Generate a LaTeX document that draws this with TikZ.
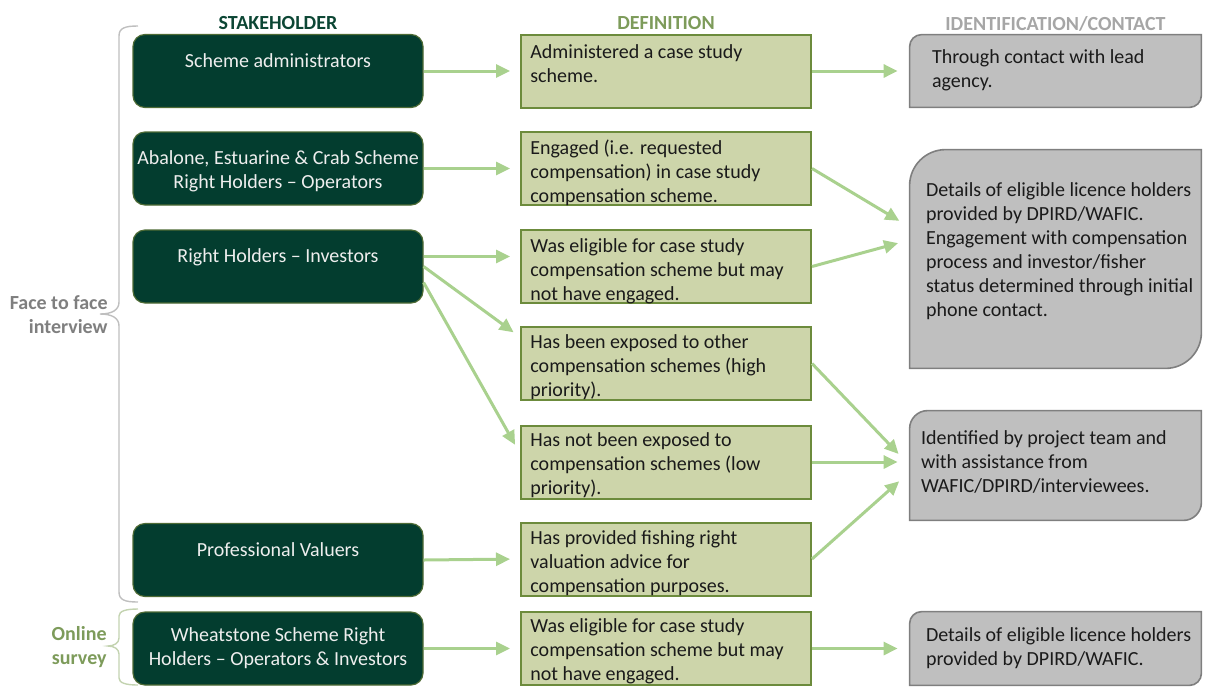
\documentclass[tikz,border=0pt]{standalone}
\usepackage{fontspec}
\setmainfont{Carlito}
\usetikzlibrary{positioning}
\usetikzlibrary{arrows.meta}

\definecolor{stakegreen}{HTML}{033D2F}
\definecolor{stakeline}{HTML}{4E6B35}
\definecolor{stakewhite}{HTML}{EEEEEE}
\definecolor{deffill}{HTML}{CDD5AA}
\definecolor{defline}{HTML}{6C8B3C}
\definecolor{idfill}{HTML}{BFBFBF}
\definecolor{idline}{HTML}{7F7F7F}
\definecolor{arrowgreen}{HTML}{A9D18E}
\definecolor{headgreen}{HTML}{0C4634}
\definecolor{headolive}{HTML}{7D9B5A}
\definecolor{headgrey}{HTML}{A6A6A6}
\definecolor{facegrey}{HTML}{7F7F7F}
\definecolor{bracegrey}{HTML}{BFBFBF}
\definecolor{braceolive}{HTML}{C3D3B0}
\definecolor{textblack}{HTML}{1A1A1A}

\begin{document}
\begin{tikzpicture}[x=0.5pt, y=0.5pt,
    font=\fontsize{10}{12}\selectfont,
    stake/.style={draw=stakeline, line width=0.6pt, fill=stakegreen, rounded corners=6pt,
        minimum width=145pt, minimum height=36.5pt, inner sep=0pt},
    defbox/.style={draw=defline, line width=1pt, fill=deffill,
        minimum width=145pt, minimum height=36.5pt, inner sep=0pt},
    idbox/.style={minimum width=145.5pt, inner sep=0pt},
    idshape/.style={draw=idline, line width=0.8pt, fill=idfill},
    stxt/.style={text=stakewhite, align=center, inner sep=0pt},
    dtxt/.style={text=textblack, align=left, inner sep=0pt},
    head/.style={font=\fontsize{10}{12}\selectfont\bfseries, inner sep=0pt, anchor=base},
    side/.style={font=\fontsize{10}{12}\selectfont\bfseries, align=right, inner sep=0pt, anchor=east},
    link/.style={draw=arrowgreen, line width=1.5pt, -{Triangle[length=7pt, width=6.5pt]}},
    brc/.style={line width=0.7pt}]

    \useasboundingbox (0,0) rectangle (1208,-686);

    % stakeholders
    \node (s1) [stake] at (278,-71) {};
    \node (s2) [stake] at (278,-168.5) {};
    \node (s3) [stake] at (278,-266.5) {};
    \node (s4) [stake] at (278,-560) {};
    \node (s5) [stake] at (278,-648.5) {};

    % definitions
    \node (d1) [defbox] at (666,-71) {};
    \node (d2) [defbox] at (666,-168.5) {};
    \node (d3) [defbox] at (666,-266.5) {};
    \node (d4) [defbox] at (666,-363.5) {};
    \node (d5) [defbox] at (666,-462) {};
    \node (d6) [defbox] at (666,-559) {};
    \node (d7) [defbox] at (666,-648.5) {};

    % identification / contact
    \node (g1) [idbox, minimum height=36pt] at (1055.5,-71) {};
    \node (g2) [idbox, minimum height=109pt] at (1055.5,-259) {};
    \node (g3) [idbox, minimum height=54.5pt] at (1055.5,-465.5) {};
    \node (g4) [idbox, minimum height=36.5pt] at (1055.5,-648.5) {};
    \foreach \g/\r in {g1/6pt, g2/18pt, g3/9pt, g4/6pt}
        \draw[idshape] (\g.south west) -- ([yshift=-\r]\g.north west)
            arc[start angle=180, end angle=90, radius=\r] -- (\g.north east)
            -- ([yshift=\r]\g.south east) arc[start angle=0, end angle=-90, radius=\r] -- cycle;

    % headings
    \node (hs) [head, text=headgreen] at ([yshift=2.2pt]s1.north) {STAKEHOLDER};
    \node (hd) [head, text=headolive] at ([yshift=2.2pt]d1.north) {DEFINITION};
    \node (hi) [head, text=headgrey] at ([yshift=2.2pt]g1.north) {IDENTIFICATION/CONTACT};

    % box texts
    \node (s1t) [stxt, below=9.5pt of s1.north] {Scheme administrators};
    \node (s2t) [stxt, below=9.5pt of s2.north] {Abalone, Estuarine \& Crab Scheme\\Right Holders -- Operators};
    \node (s3t) [stxt, below=9.5pt of s3.north] {Right Holders -- Investors};
    \node (s4t) [stxt, below=9.5pt of s4.north] {Professional Valuers};
    \node (s5t) [stxt, below=8pt of s5.north] {Wheatstone Scheme Right\\Holders -- Operators \& Investors};

    \node (d1t) [dtxt, below right=5.5pt and 5pt of d1.north west] {Administered a case study\\scheme.};
    \node (d2t) [dtxt, below right=4pt and 5pt of d2.north west] {Engaged (i.e. requested\\compensation) in case study\\compensation scheme.};
    \node (d3t) [dtxt, below right=4.5pt and 5pt of d3.north west] {Was eligible for case study\\compensation scheme but may\\not have engaged.};
    \node (d4t) [dtxt, below right=4pt and 5pt of d4.north west] {Has been exposed to other\\compensation schemes (high\\priority).};
    \node (d5t) [dtxt, below right=4pt and 5pt of d5.north west] {Has not been exposed to\\compensation schemes (low\\priority).};
    \node (d6t) [dtxt, below right=4.5pt and 5pt of d6.north west] {Has provided fishing right\\valuation advice for\\compensation purposes.};
    \node (d7t) [dtxt, below right=3.5pt and 5pt of d7.north west] {Was eligible for case study\\compensation scheme but may\\not have engaged.};

    \node (g1t) [dtxt, below right=7.5pt and 11pt of g1.north west] {Through contact with lead\\agency.};
    \node (g2t) [dtxt, below right=16.5pt and 8pt of g2.north west] {Details of eligible licence holders\\provided by DPIRD/WAFIC.\\Engagement with compensation\\process and investor/fisher\\status determined through initial\\phone contact.};
    \node (g3t) [dtxt, below right=10pt and 5.5pt of g3.north west] {Identified by project team and\\with assistance from\\WAFIC/DPIRD/interviewees.};
    \node (g4t) [dtxt, below right=8pt and 8pt of g4.north west] {Details of eligible licence holders\\provided by DPIRD/WAFIC.};

    % arrows
    \draw[link, shorten >=5pt] (s1.east) -- (d1.west);
    \draw[link, shorten >=6pt] (d1.east) -- (g1.west);
    \draw[link, shorten >=5pt] (s2.east) -- (d2.west);
    \draw[link, shorten >=5pt] ([yshift=5pt]s3.east) -- ([yshift=5pt]d3.west);
    \draw[link, shorten >=4pt] (s3.east) -- ([yshift=-5.5pt]d4.north west);
    \draw[link, shorten >=5pt] ([yshift=-8pt]s3.east) -- ([yshift=-14.5pt]d5.north west);
    \draw[link, shorten >=5pt] (s4.east) -- (d6.west);
    \draw[link, shorten >=5pt] (s5.east) -- (d7.west);
    \draw[link, shorten >=6pt] (d2.east) -- ([yshift=16pt]g2.west);
    \draw[link, shorten >=6pt] (d3.east) -- ([yshift=9.5pt]g2.west);
    \draw[link, shorten >=8pt] (d4.east) -- (g3.west);
    \draw[link, shorten >=6pt] (d5.east) -- (d5.east -| g3.west);
    \draw[link, shorten >=7pt] (d6.east) -- ([yshift=-3.25pt]g3.west);
    \draw[link, shorten >=6pt] (d7.east) -- (g4.west);

    % braces and side labels
    \draw[brc, bracegrey] (138,-26) .. controls (125,-26) and (119,-28) .. (119,-36) -- (119,-302)
        .. controls (119,-310) and (112,-314) .. (100,-314) .. controls (112,-314) and (119,-318) .. (119,-326)
        -- (119,-592) .. controls (119,-600) and (125,-602) .. (138,-602);
    \draw[brc, braceolive] (138,-609) .. controls (126,-609) and (119,-611) .. (119,-616) -- (119,-638)
        .. controls (119,-643) and (114,-646) .. (108,-646) .. controls (114,-646) and (119,-649) .. (119,-654)
        -- (119,-678) .. controls (119,-683) and (126,-685) .. (138,-685);
    \node (ff) [side, text=facegrey] at (108,-315) {Face to face\\interview};
    \node (os) [side, text=headolive] at (107,-647) {Online\\survey};
\end{tikzpicture}
\end{document}
